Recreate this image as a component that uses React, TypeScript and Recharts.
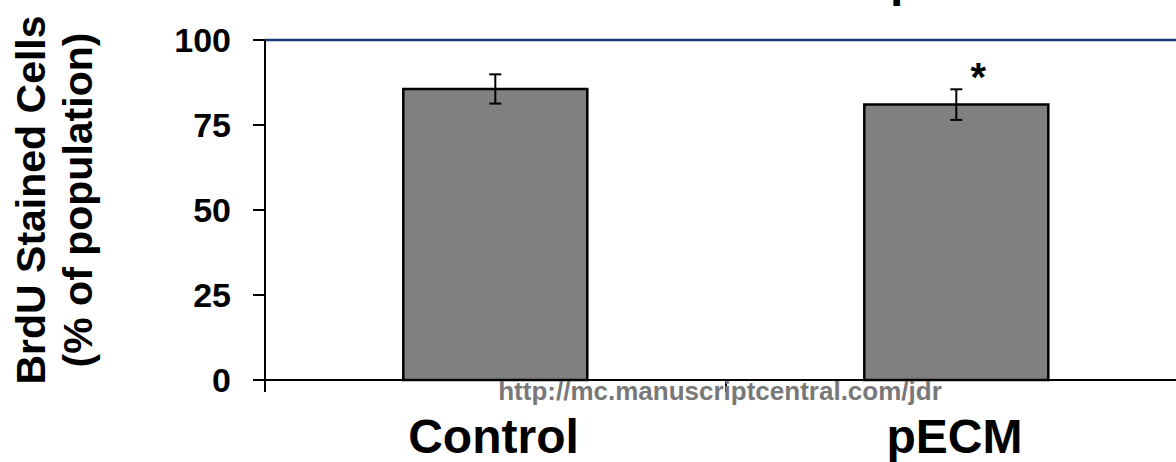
import { BarChart, Bar, XAxis, YAxis, ErrorBar, ReferenceLine, LabelList } from 'recharts';

const groups = ['Control', 'pECM'];
const brduPct = [85.6, 81.0];
const brduSem = [4.3, 4.5];
const sigMarks = ['', '*'];
const yTicks = [0, 25, 50, 75, 100];

const data = groups.map((group, i) => ({
  group,
  pct: brduPct[i],
  sem: brduSem[i],
  mark: sigMarks[i]
}));

const FONT = 'Arial, "Liberation Sans", Helvetica, sans-serif';

// category label plus a tick mark at the left edge of each band
function GroupTick(props: any) {
  const { x, y, payload } = props;
  const half = payload?.offset || 230.5;
  return (
    <g>
      <line x1={x - half} y1={y - 1} x2={x - half} y2={y + 12} stroke="#000" strokeWidth={2} />
      <text
        x={x - 2}
        y={y + 73}
        textAnchor="middle"
        fontFamily={FONT}
        fontWeight="bold"
        fontSize={48}
        fill="#000"
      >
        {payload.value}
      </text>
    </g>
  );
}

function YTitle(props: any) {
  const vb = props.viewBox || { x: 0, y: 40, width: 265, height: 340 };
  const cy = vb.y + vb.height / 2 - 10;
  const common = {
    textAnchor: 'middle' as const,
    fontFamily: FONT,
    fontWeight: 'bold',
    fontSize: 41,
    fill: '#000'
  };
  return (
    <g>
      <text {...common} x={vb.x + 45} y={cy} transform={`rotate(-90, ${vb.x + 45}, ${cy})`}>
        BrdU Stained Cells
      </text>
      <text {...common} x={vb.x + 92} y={cy} transform={`rotate(-90, ${vb.x + 92}, ${cy})`}>
        (% of population)
      </text>
    </g>
  );
}

function SigMark(props: any) {
  const { x, y, width, value } = props;
  if (!value) return null;
  return (
    <text
      x={x + width / 2 + 22}
      y={y - 14}
      textAnchor="middle"
      fontFamily={FONT}
      fontWeight="bold"
      fontSize={40}
      fill="#000"
    >
      {value}
    </text>
  );
}

export default function App() {
  return (
    <div
      style={{
        position: 'absolute',
        left: 0,
        top: 0,
        width: 1176,
        height: 462,
        overflow: 'hidden',
        background: '#fff'
      }}
    >
      <BarChart
        width={1200}
        height={462}
        data={data}
        margin={{ top: 40, right: 13, bottom: 0, left: 0 }}
        barCategoryGap="30%"
      >
        <XAxis
          dataKey="group"
          height={82}
          axisLine={{ stroke: '#000', strokeWidth: 2 }}
          tickLine={false}
          tickSize={0}
          tickMargin={0}
          interval={0}
          tick={<GroupTick />}
        />
        <YAxis
          width={265}
          domain={[0, 100]}
          ticks={yTicks}
          interval={0}
          axisLine={{ stroke: '#000', strokeWidth: 2 }}
          tickLine={{ stroke: '#000', strokeWidth: 2 }}
          tickSize={12}
          tickMargin={22}
          tick={{ fontSize: 34, fontWeight: 'bold', fill: '#000', fontFamily: FONT }}
          label={{ content: (p: any) => <YTitle {...p} /> }}
        />
        <ReferenceLine y={100} stroke="#1c3a7a" strokeWidth={2.5} />
        <Bar dataKey="pct" fill="#808080" stroke="#000" strokeWidth={2.5} isAnimationActive={false}>
          <ErrorBar dataKey="sem" direction="y" width={6} stroke="#000" strokeWidth={2} isAnimationActive={false} />
          <LabelList dataKey="mark" content={(p: any) => <SigMark {...p} />} />
        </Bar>
      </BarChart>
      <svg
        width={1176}
        height={462}
        style={{ position: 'absolute', left: 0, top: 0, pointerEvents: 'none' }}
      >
        {/* descender of the title line sitting above the frame */}
        <text x={890} y={-4} fontFamily={FONT} fontWeight="bold" fontSize={48} fill="#000">
          p
        </text>
        <text
          x={720}
          y={400}
          textAnchor="middle"
          fontFamily={FONT}
          fontWeight="bold"
          fontSize={26}
          fill="#787878"
        >
          http://mc.manuscriptcentral.com/jdr
        </text>
      </svg>
    </div>
  );
}
